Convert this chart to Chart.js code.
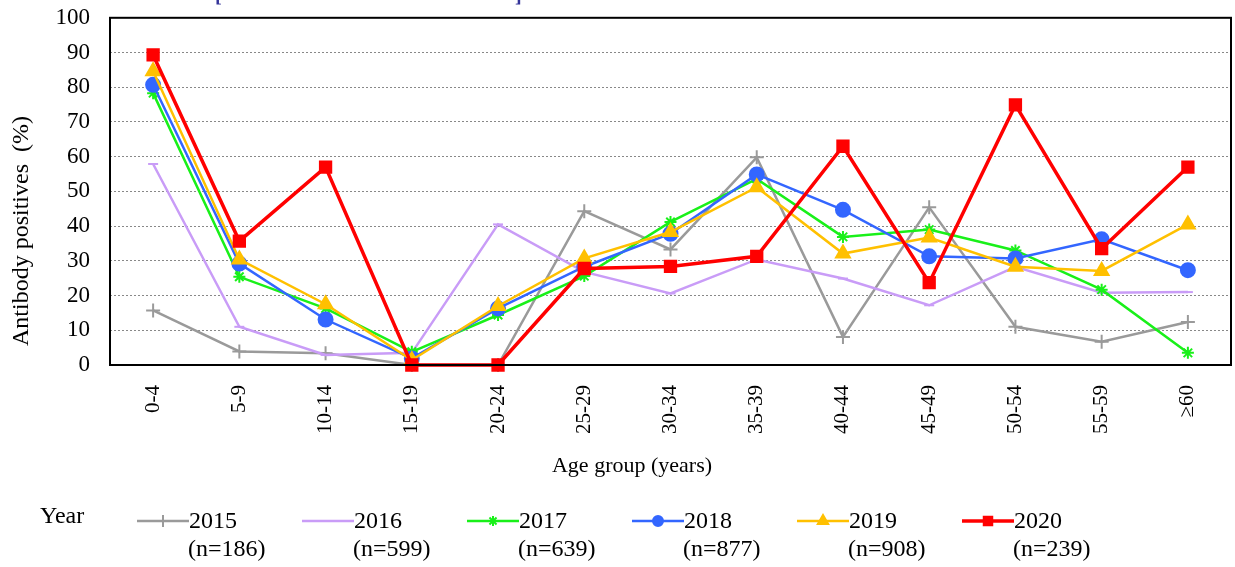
<!DOCTYPE html>
<html lang="en">
  <head>
    <meta charset="UTF-8" />
    <script src="https://cdn.jsdelivr.net/npm/chart.js"></script>
    <title>Antibody positives by age group</title>
    <style>
      body {
        margin: 0;
        background: #fff;
      }
      #wrap {
        width: 1235px;
        height: 567px;
      }
    </style>
  </head>
  <body>
    <div id="wrap"><canvas id="myChart" width="1235" height="567"></canvas></div>
  </body>
</html>
<script>
  const ageGroups = ["0-4", "5-9", "10-14", "15-19", "20-24", "25-29", "30-34", "35-39", "40-44", "45-49", "50-54", "55-59", "≥60"];
  const years = ["2015", "2016", "2017", "2018", "2019", "2020"];
  const sampleSizes = ["(n=186)", "(n=599)", "(n=639)", "(n=877)", "(n=908)", "(n=239)"];

  const y2015 = [15.7, 3.9, 3.4, 0, 0, 44.3, 33.3, 59.8, 8.1, 45.4, 11.0, 6.7, 12.4];
  const y2016 = [57.9, 11.0, 2.9, 3.5, 40.5, 26.8, 20.6, 30.4, 24.9, 17.2, 28.3, 20.8, 21.0];
  const y2017 = [78.3, 25.4, 16.3, 3.8, 14.4, 25.6, 41.2, 53.6, 36.9, 39.0, 33.0, 21.7, 3.5];
  const y2018 = [80.7, 29.2, 13.1, 1.9, 16.3, 28.3, 37.8, 54.9, 44.7, 31.3, 30.7, 36.2, 27.3];
  const y2019 = [84.6, 30.4, 17.5, 1.4, 17.0, 30.7, 38.3, 51.2, 32.1, 36.7, 28.3, 27.1, 40.5];
  const y2020 = [89.3, 35.7, 57.0, 0, 0, 27.8, 28.4, 31.3, 63.0, 23.7, 74.9, 33.5, 57.0];

  const serif = "'Liberation Serif', 'DejaVu Serif', serif";

  const seriesStyle = [
    { data: y2015, color: "#9a9a9a", style: "cross", radius: 7, width: 2.5, legendRadius: 6 },
    { data: y2016, color: "#c99cf7", style: "line", radius: 5, width: 2.5, legendRadius: 4 },
    { data: y2017, color: "#19f019", style: "star", radius: 6, width: 2.5, legendRadius: 5 },
    { data: y2018, color: "#3366ff", style: "circle", radius: 7, width: 2.5, legendRadius: 5 },
    { data: y2019, color: "#ffc000", style: "triangle", radius: 8, width: 2.5, legendRadius: 6 },
    { data: y2020, color: "#ff0000", style: "rect", radius: 8, width: 3.5, legendRadius: 6 },
  ];

  // frame around plot, axis titles, cut-off heading and the two-line legend
  const extras = {
    id: "extras",
    afterDraw(chart) {
      const ctx = chart.ctx;
      const a = chart.chartArea;
      ctx.save();
      ctx.strokeStyle = "#000";
      ctx.lineWidth = 2;
      ctx.strokeRect(a.left, a.top, a.right - a.left, a.bottom - a.top);

      ctx.fillStyle = "#333399";
      ctx.font = "bold 20px " + serif;
      ctx.textBaseline = "alphabetic";
      ctx.fillText("[", 215, 2);
      ctx.fillText("]", 515, 2);

      ctx.fillStyle = "#000";
      ctx.textAlign = "center";
      ctx.textBaseline = "middle";
      ctx.font = "22px " + serif;
      ctx.fillText("Age group (years)", 632, 466);

      ctx.save();
      ctx.translate(22, 231);
      ctx.rotate(-Math.PI / 2);
      ctx.font = "24px " + serif;
      ctx.fillText("Antibody positives  (%)", 0, 0);
      ctx.restore();

      ctx.font = "24px " + serif;
      ctx.textAlign = "left";
      ctx.fillText("Year", 40, 517);

      seriesStyle.forEach((s, i) => {
        const x0 = 137 + i * 165;
        const y = 521;
        ctx.strokeStyle = s.color;
        ctx.fillStyle = s.color;
        ctx.lineWidth = s.width;
        ctx.beginPath();
        ctx.moveTo(x0, y);
        ctx.lineTo(x0 + 52, y);
        ctx.stroke();
        if (Chart.helpers && Chart.helpers.drawPoint) {
          ctx.lineWidth = 2;
          Chart.helpers.drawPoint(ctx, { pointStyle: s.style, radius: s.legendRadius, rotation: 0, borderWidth: 2 }, x0 + 26, y);
        }
        ctx.fillStyle = "#000";
        ctx.fillText(years[i], x0 + 52, y + 1);
        ctx.fillText(sampleSizes[i], x0 + 51, y + 29);
      });
      ctx.restore();
    },
  };

  const ctx = document.getElementById("myChart").getContext("2d");
  const myChart = new Chart(ctx, {
    type: "line",
    data: {
      labels: ageGroups,
      datasets: seriesStyle.map((s, i) => ({
        label: years[i],
        data: s.data,
        borderColor: s.color,
        backgroundColor: s.color,
        borderWidth: s.width,
        pointStyle: s.style,
        pointRadius: s.radius,
        pointBorderWidth: 2,
        pointBorderColor: s.color,
        pointBackgroundColor: s.color,
        tension: 0,
        order: 6 - i,
        clip: false,
      })),
    },
    options: {
      responsive: false,
      animation: false,
      layout: { autoPadding: false, padding: { left: 0, right: 4, top: 17, bottom: 90 } },
      plugins: {
        legend: { display: false },
        tooltip: { enabled: false },
      },
      scales: {
        x: {
          offset: true,
          grid: { display: false },
          border: { display: false },
          ticks: {
            minRotation: 90,
            maxRotation: 90,
            padding: 12,
            color: "#000",
            font: { family: serif, size: 21 },
          },
          afterFit(scale) {
            scale.height = 112;
            scale.paddingLeft = 0;
            scale.paddingRight = 0;
          },
        },
        y: {
          min: 0,
          max: 100,
          ticks: {
            stepSize: 10,
            padding: 4,
            color: "#000",
            font: { family: serif, size: 23 },
          },
          grid: {
            drawTicks: true,
            tickLength: 16,
            tickColor: "rgba(0,0,0,0)",
            color: (c) => (c.tick.value === 0 || c.tick.value === 100 ? "rgba(0,0,0,0)" : "#888888"),
            lineWidth: 1,
          },
          border: { display: false, dash: [2, 2] },
          afterFit(scale) {
            scale.width = 110;
          },
        },
      },
    },
    plugins: [extras],
  });
</script>
